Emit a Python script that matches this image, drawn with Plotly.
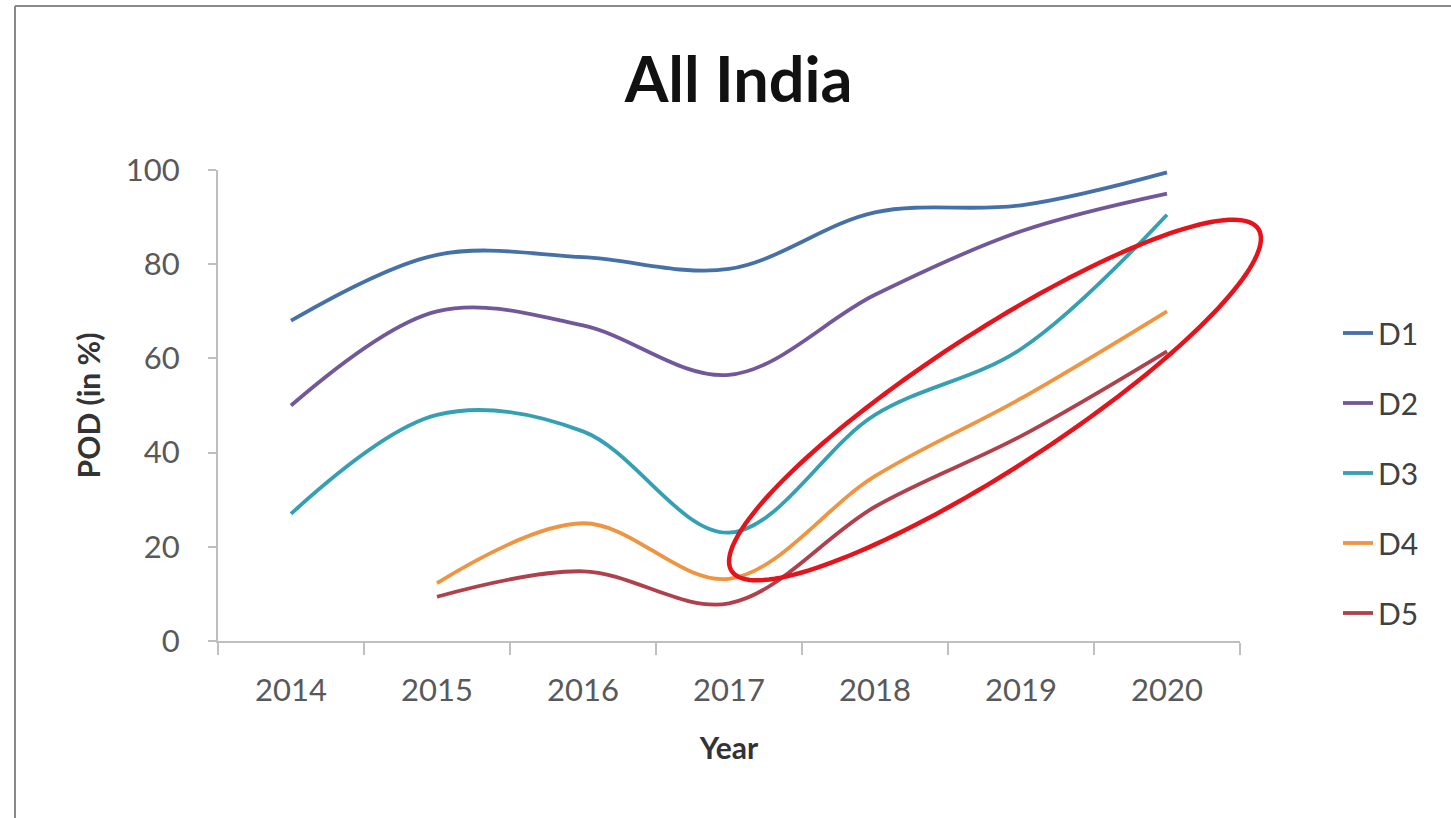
import numpy as np
import plotly.graph_objects as go

# ---- data ----
years = ["2014", "2015", "2016", "2017", "2018", "2019", "2020"]
d1 = [68, 82, 81.5, 79, 91, 92.5, 99.5]
d2 = [50, 70, 67, 56.5, 73.5, 87, 95]
d3 = [27, 48, 44.5, 23, 48, 62, 90.5]
d4 = [None, 12.3, 25, 13.2, 35, 51.5, 70]
d5 = [None, 9.4, 14.8, 8, 28.5, 43.5, 61.5]
series_names = ["D1", "D2", "D3", "D4", "D5"]
colors = ["#4670a8", "#71589a", "#35a0b4", "#ef9440", "#b0404b"]

FONT = "Lato, 'Open Sans', sans-serif"
W, H = 1451, 818
L, R, T, B = 218, 211, 170, 177
PW, PH = W - L - R, H - T - B

def px_to_paper(x, y):
    return (x - L) / PW, (H - B - y) / PH

fig = go.Figure()
for name, vals, col in zip(series_names, [d1, d2, d3, d4, d5], colors):
    fig.add_trace(go.Scatter(
        x=years, y=vals, mode="lines", name=name, legendgroup=name,
        line=dict(color=col, width=3.8, shape="spline", smoothing=1),
    ))

# ---- red highlight ellipse (annotation) ----
cx, cy, a, b, th = 995, 400, 314, 68, np.deg2rad(33)
t = np.linspace(0, 2 * np.pi, 160)
ex = cx + a * np.cos(t) * np.cos(th) - b * np.sin(t) * np.sin(th)
ey = cy - (a * np.cos(t) * np.sin(th) + b * np.sin(t) * np.cos(th))
pts = [px_to_paper(x, y) for x, y in zip(ex, ey)]
path = "M " + " L ".join(f"{x:.5f},{y:.5f}" for x, y in pts) + " Z"

# frame lines (top and left)
fx0, fy0 = px_to_paper(15, 6)
fx1, _ = px_to_paper(1451, 6)
_, fyb = px_to_paper(15, 818)

fig.update_layout(
    width=W, height=H,
    margin=dict(l=L, r=R, t=T, b=B, autoexpand=False),
    paper_bgcolor="white", plot_bgcolor="white",
    font=dict(family=FONT, color="#595959"),
    title=dict(text="<b>All India</b>", x=0.509, xanchor="center", xref="container",
               y=1 - 80 / H, yanchor="middle",
               font=dict(family=FONT, size=63, color="#111111")),
    xaxis=dict(type="category", range=[-0.5, 6.5], tickson="boundaries",
               ticks="outside", ticklen=12, tickwidth=2, tickcolor="#bfbfbf",
               showline=True, linecolor="#bfbfbf", linewidth=2, showgrid=False,
               ticklabelstandoff=21,
               tickfont=dict(size=31, color="#595959"),
               title=dict(text="<b>Year</b>", standoff=31,
                          font=dict(size=30, color="#333333"))),
    yaxis=dict(range=[0, 100], dtick=20, ticks="outside", ticklen=8, tickwidth=2,
               tickcolor="#bfbfbf", showline=True, linecolor="#bfbfbf", linewidth=2,
               showgrid=False, zeroline=False, ticklabelstandoff=22,
               tickfont=dict(size=31, color="#595959"),
               title=dict(text="<b>POD (in %)</b>", standoff=16,
                          font=dict(size=30, color="#333333"))),
    legend=dict(x=px_to_paper(1338, 0)[0], xanchor="left",
                y=px_to_paper(0, 307)[1], yanchor="top",
                font=dict(size=30, color="#404040"), tracegroupgap=28,
                bgcolor="rgba(0,0,0,0)"),
    showlegend=True,
    shapes=[
        dict(type="path", path=path, xref="paper", yref="paper",
             line=dict(color="#e5141c", width=4.5)),
        dict(type="line", xref="paper", yref="paper", x0=fx0, y0=fy0, x1=fx1, y1=fy0,
             line=dict(color="#8a8a8a", width=2)),
        dict(type="line", xref="paper", yref="paper", x0=fx0, y0=fy0, x1=fx0, y1=fyb,
             line=dict(color="#8a8a8a", width=2)),
    ],
)

fig.write_html("out.html", config={"displayModeBar": False},
               post_script="document.body.style.margin='0px';")
